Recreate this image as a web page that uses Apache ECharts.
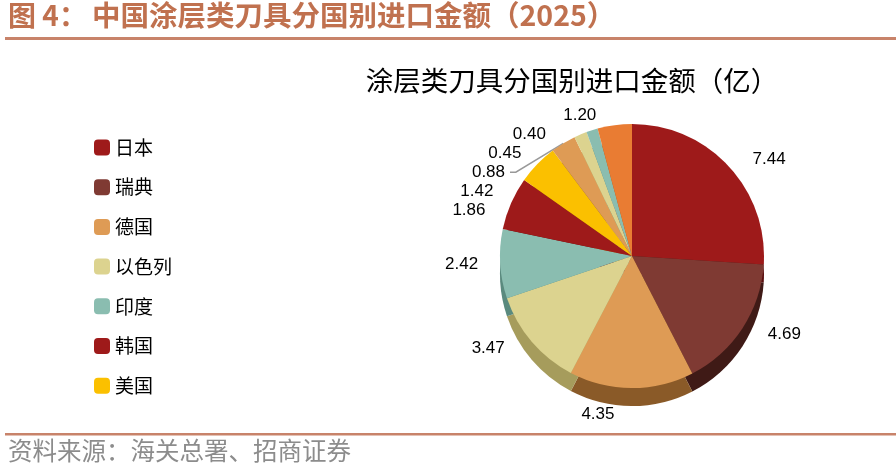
<!DOCTYPE html>
<html>
<head>
<meta charset="utf-8">
<script src="https://cdn.jsdelivr.net/npm/echarts@6/dist/echarts.min.js"></script>
<style>
html,body{margin:0;padding:0;background:#fff;}
#main{width:896px;height:464px;}
</style>
</head>
<body>
<div id="main"></div>
<script>
// 数据
var countries = ['日本','瑞典','德国','以色列','印度','韩国','美国','法国','意大利','奥地利','其他'];
var amounts   = [7.44, 4.69, 4.35, 3.47, 2.42, 1.86, 1.42, 0.88, 0.45, 0.40, 1.20];
var legendNames = ['日本','瑞典','德国','以色列','印度','韩国','美国'];
var topColors  = ['#9E1A1A','#7F3A33','#DE9B55','#DCD38F','#8ABDB0','#9E1A1A','#FBC000','#DE9B55','#DCD38F','#8ABDB0','#E97C33'];
var sideColors = ['#5A0F0F','#3F1A16','#8A5A28','#A69C5C','#5A8A7E','#5A0F0F','#A07A00','#8A5A28','#A69C5C','#5A8A7E','#A0521C'];

var myChart = echarts.init(document.getElementById('main'));

var topData = [], sideData = [];
for (var i = 0; i < countries.length; i++) {
	var item = {
		name: countries[i],
		value: amounts[i],
		itemStyle: {color: topColors[i]},
		labelLine: {show: countries[i] == '法国'}
	};
	// 底部标签放在侧面下方
	if (countries[i] == '德国') item.labelLine.length = 26;
	topData.push(item);
	sideData.push({
		name: countries[i],
		value: amounts[i],
		itemStyle: {color: sideColors[i]}
	});
}

var option = {
	animation: false,
	title: {
		text: '涂层类刀具分国别进口金额（亿）',
		left: 567,
		top: 62,
		textAlign: 'center',
		textStyle: {fontFamily: 'Noto Sans CJK SC', fontSize: 27.5, fontWeight: 'normal', color: '#000'}
	},
	legend: {
		data: legendNames,
		orient: 'vertical',
		left: 89,
		top: 133,
		itemWidth: 16,
		itemHeight: 16,
		itemGap: 20.7,
		icon: 'roundRect',
		textStyle: {fontFamily: 'Noto Sans CJK SC', fontSize: 19, color: '#000'}
	},
	graphic: [
		{type: 'text', left: 8, top: 1, style: {text: '图 4：', fill: '#C0714F', font: 'bold 28px "Noto Sans CJK SC"'}},
		{type: 'text', left: 92, top: 1, style: {text: '中国涂层类刀具分国别进口金额（2025）', fill: '#C0714F', font: 'bold 28.5px "Noto Sans CJK SC"'}},
		{type: 'rect', shape: {x: 5, y: 37, width: 891, height: 3}, style: {fill: '#C8836A'}},
		{type: 'rect', shape: {x: 5, y: 433, width: 891, height: 2.5}, style: {fill: '#C8836A'}},
		{type: 'text', left: 8, top: 438, style: {text: '资料来源：海关总署、招商证券', fill: '#8C8C8C', font: '24.5px "Noto Sans CJK SC"'}}
	],
	series: [
		{
			name: '进口金额',
			type: 'pie',
			z: 3,
			center: [632, 256],
			radius: [0, 132],
			startAngle: 90,
			clockwise: true,
			avoidLabelOverlap: true,
			label: {
				show: true,
				formatter: function (p) { return p.value.toFixed(2); },
				fontFamily: 'Liberation Sans, Arial',
				fontSize: 17,
				color: '#000'
			},
			labelLine: {length: 10, length2: 12, lineStyle: {color: '#999', width: 1.5}},
			emphasis: {disabled: true},
			data: topData
		},
		{
			name: '侧面',
			type: 'pie',
			z: 1,
			silent: true,
			center: [632, 274],
			radius: [0, 132],
			startAngle: 90,
			clockwise: true,
			label: {show: false},
			labelLine: {show: false},
			data: sideData
		}
	]
};

myChart.setOption(option);
</script>
</body>
</html>
